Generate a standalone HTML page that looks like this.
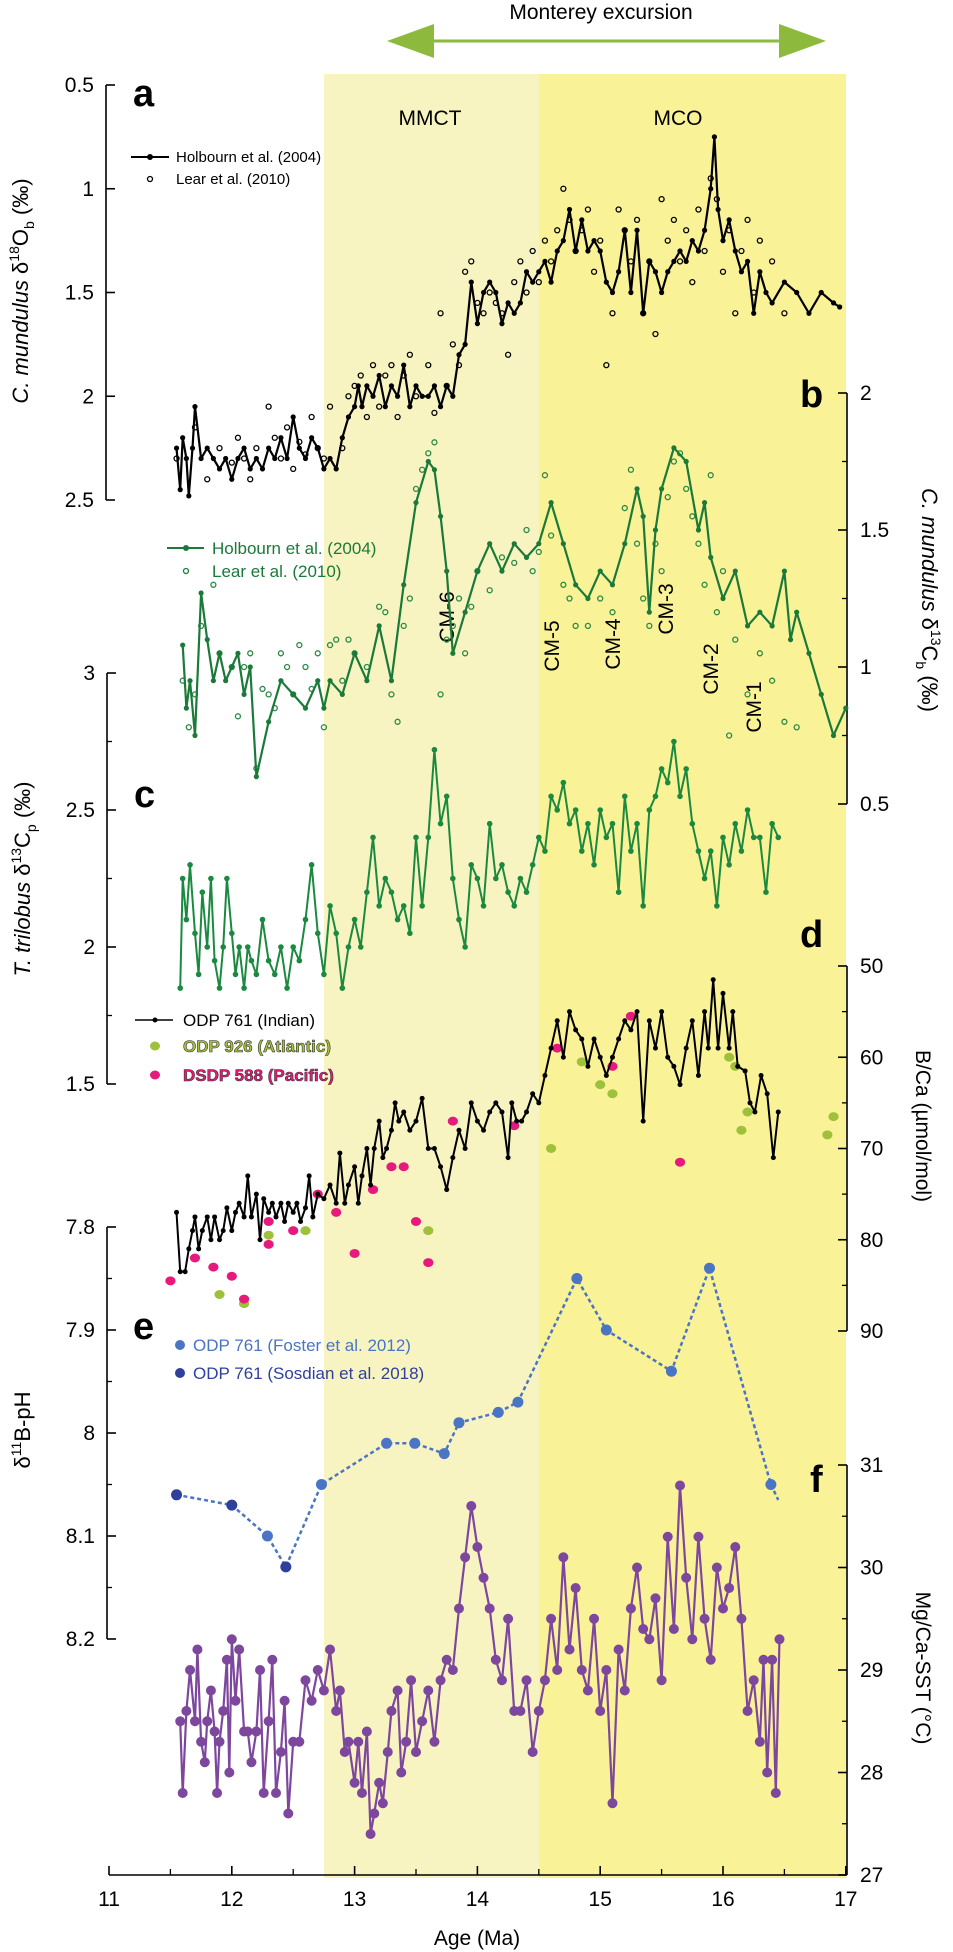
<!DOCTYPE html>
<html><head><meta charset="utf-8">
<style>
html,body{margin:0;padding:0;background:#fff;}
svg{display:block;font-family:"Liberation Sans",sans-serif;}
</style></head>
<body>
<svg id="chart" width="953" height="1952" viewBox="0 0 953 1952">
  <rect x="324" y="74" width="215" height="1804" fill="#f8f4c2"/>
  <rect x="539" y="74" width="307" height="1804" fill="#faf296"/>
  <g>
    <line x1="430" y1="41" x2="782" y2="41" stroke="#8dba3c" stroke-width="3"/>
    <polygon points="387,41 434,24 434,58" fill="#8dba3c"/>
    <polygon points="826,41 779,24 779,58" fill="#8dba3c"/>
  </g>
  <text x="601" y="19" font-size="21" text-anchor="middle">Monterey excursion</text>
  <text x="430" y="125" font-size="21" text-anchor="middle">MMCT</text>
  <text x="678" y="125" font-size="21" text-anchor="middle">MCO</text>

  <text x="133" y="106" font-size="38" font-weight="bold">a</text>
  <text x="800" y="407" font-size="38" font-weight="bold">b</text>
  <text x="134" y="807" font-size="38" font-weight="bold">c</text>
  <text x="800" y="947" font-size="38" font-weight="bold">d</text>
  <text x="133" y="1339" font-size="38" font-weight="bold">e</text>
  <text x="810" y="1492" font-size="38" font-weight="bold">f</text>

  <text transform="translate(28,291) rotate(-90)" font-size="22" text-anchor="middle"><tspan font-style="italic">C. mundulus</tspan> δ<tspan font-size="14" dy="-9">18</tspan><tspan dy="9">O</tspan><tspan font-size="14" dy="6">b</tspan><tspan dy="-6"> (‰)</tspan></text>
  <text transform="translate(30,879) rotate(-90)" font-size="22" text-anchor="middle"><tspan font-style="italic">T. trilobus</tspan> δ<tspan font-size="14" dy="-9">13</tspan><tspan dy="9">C</tspan><tspan font-size="14" dy="6">p</tspan><tspan dy="-6"> (‰)</tspan></text>
  <text transform="translate(30,1430) rotate(-90)" font-size="22" text-anchor="middle">δ<tspan font-size="14" dy="-9">11</tspan><tspan dy="9">B-pH</tspan></text>
  <text transform="translate(922,600) rotate(90)" font-size="22" text-anchor="middle"><tspan font-style="italic">C. mundulus</tspan> δ<tspan font-size="14" dy="-9">13</tspan><tspan dy="9">C</tspan><tspan font-size="14" dy="6">b</tspan><tspan dy="-6"> (‰)</tspan></text>
  <text transform="translate(916,1126) rotate(90)" font-size="21" text-anchor="middle">B/Ca (µmol/mol)</text>
  <text transform="translate(916,1668) rotate(90)" font-size="21" text-anchor="middle">Mg/Ca-SST (°C)</text>
  <text x="477" y="1945" font-size="21" text-anchor="middle">Age (Ma)</text>

  <g>
    <line x1="131" y1="157" x2="169" y2="157" stroke="#000" stroke-width="2"/><circle cx="150" cy="157" r="3" fill="#000"/>
    <text x="176" y="162" font-size="15">Holbourn et al. (2004)</text>
    <circle cx="150" cy="179" r="2.5" fill="none" stroke="#000" stroke-width="1.3"/>
    <text x="176" y="184" font-size="15">Lear et al. (2010)</text>
  </g>
  <g fill="#1b7a3a">
    <line x1="167" y1="548" x2="204" y2="548" stroke="#1b7a3a" stroke-width="2"/><circle cx="186" cy="548" r="3"/>
    <text x="212" y="554" font-size="17">Holbourn et al. (2004)</text>
    <circle cx="186" cy="571" r="2.5" fill="none" stroke="#1b7a3a" stroke-width="1.3"/>
    <text x="212" y="577" font-size="17">Lear et al. (2010)</text>
  </g>
  <g>
    <line x1="135" y1="1020" x2="173" y2="1020" stroke="#000" stroke-width="1.5"/><circle cx="155" cy="1020" r="2.5"/>
    <text x="183" y="1026" font-size="17">ODP 761 (Indian)</text>
    <ellipse cx="155" cy="1046" rx="5" ry="4.5" fill="#9dc13a"/>
    <text x="183" y="1052" font-size="17" font-weight="bold" fill="#a5c23a" stroke="#333" stroke-width="0.6">ODP 926 (Atlantic)</text>
    <ellipse cx="155" cy="1075" rx="5" ry="4.5" fill="#e8197c"/>
    <text x="183" y="1081" font-size="17" font-weight="bold" fill="#e8197c" stroke="#333" stroke-width="0.6">DSDP 588 (Pacific)</text>
  </g>
  <g>
    <circle cx="180" cy="1345" r="5" fill="#4a74c4"/>
    <text x="193" y="1351" font-size="17" fill="#4a74c4">ODP 761 (Foster et al. 2012)</text>
    <circle cx="180" cy="1373" r="5" fill="#2e3f9c"/>
    <text x="193" y="1379" font-size="17" fill="#2e3f9c">ODP 761 (Sosdian et al. 2018)</text>
  </g>

  <g font-size="21">
    <text transform="translate(454,617) rotate(-90)" text-anchor="middle">CM-6</text>
    <text transform="translate(559,646) rotate(-90)" text-anchor="middle">CM-5</text>
    <text transform="translate(620,644) rotate(-90)" text-anchor="middle">CM-4</text>
    <text transform="translate(673,609) rotate(-90)" text-anchor="middle">CM-3</text>
    <text transform="translate(718,669) rotate(-90)" text-anchor="middle">CM-2</text>
    <text transform="translate(761,707) rotate(-90)" text-anchor="middle">CM-1</text>
  </g>
  <g id="axes"></g>
  <g id="marks"></g>
</svg>
<script>
// ---- data ----
const xTicks = [11,12,13,14,15,16,17];
const aTicks = [0.5,1,1.5,2,2.5];
const bTicks = [0.5,1,1.5,2];
const cTicks = [1.5,2,2.5,3];
const dTicks = [50,60,70,80,90];
const eTicks = [7.8,7.9,8,8.1,8.2];
const fTicks = [27,28,29,30,31];

const aAge = [11.55,11.58,11.6,11.63,11.65,11.68,11.7,11.75,11.8,11.85,11.9,11.95,12.0,12.05,12.1,12.15,12.2,12.25,12.3,12.35,12.4,12.45,12.5,12.55,12.6,12.65,12.7,12.75,12.8,12.85,12.9,12.95,13.0,13.03,13.06,13.1,13.15,13.2,13.25,13.3,13.35,13.4,13.45,13.5,13.55,13.6,13.65,13.7,13.75,13.8,13.85,13.9,13.95,14.0,14.05,14.1,14.15,14.2,14.25,14.3,14.35,14.4,14.45,14.5,14.55,14.6,14.65,14.7,14.75,14.8,14.85,14.9,14.95,15.0,15.05,15.1,15.15,15.2,15.25,15.3,15.35,15.4,15.45,15.5,15.55,15.6,15.65,15.7,15.75,15.8,15.85,15.9,15.93,15.96,16.0,16.05,16.1,16.15,16.2,16.25,16.3,16.35,16.4,16.5,16.6,16.7,16.8,16.9,16.95];
const aVal = [2.25,2.45,2.2,2.3,2.48,2.25,2.05,2.3,2.25,2.3,2.35,2.3,2.4,2.3,2.25,2.35,2.3,2.35,2.25,2.3,2.2,2.3,2.1,2.25,2.3,2.2,2.25,2.35,2.3,2.35,2.2,2.1,2.05,1.95,2.05,1.95,2.0,1.9,2.05,1.95,2.0,1.85,2.05,1.95,2.0,2.0,1.95,2.05,1.95,2.0,1.8,1.75,1.45,1.65,1.5,1.45,1.5,1.65,1.55,1.6,1.55,1.4,1.45,1.4,1.35,1.45,1.3,1.25,1.1,1.3,1.15,1.3,1.25,1.3,1.45,1.5,1.4,1.2,1.5,1.2,1.6,1.35,1.4,1.5,1.4,1.35,1.3,1.35,1.25,1.3,1.2,1.0,0.75,1.1,1.25,1.15,1.3,1.4,1.35,1.6,1.4,1.5,1.55,1.45,1.5,1.6,1.5,1.55,1.57];
const aLearAge = [11.55,11.7,11.8,11.9,12.0,12.05,12.1,12.15,12.2,12.3,12.35,12.4,12.45,12.5,12.55,12.6,12.65,12.7,12.75,12.8,12.9,12.95,13.0,13.05,13.1,13.15,13.2,13.25,13.3,13.35,13.4,13.45,13.5,13.6,13.65,13.7,13.75,13.8,13.85,13.9,13.95,14.0,14.05,14.1,14.15,14.2,14.25,14.3,14.35,14.4,14.45,14.5,14.55,14.6,14.65,14.7,14.75,14.8,14.85,14.9,14.95,15.0,15.05,15.1,15.15,15.2,15.25,15.3,15.35,15.4,15.45,15.5,15.55,15.6,15.65,15.7,15.75,15.8,15.85,15.9,15.95,16.0,16.05,16.1,16.15,16.2,16.25,16.3,16.4,16.5];
const aLearVal = [2.3,2.15,2.4,2.25,2.32,2.2,2.3,2.4,2.25,2.05,2.2,2.3,2.15,2.35,2.22,2.28,2.1,2.25,2.3,2.05,2.25,2.0,1.95,1.9,2.1,1.85,2.05,1.9,1.85,2.1,1.9,1.8,2.0,1.85,2.08,1.6,1.95,1.75,1.85,1.4,1.35,1.55,1.6,1.5,1.55,1.6,1.8,1.45,1.35,1.5,1.3,1.45,1.25,1.35,1.2,1.0,1.15,1.3,1.2,1.1,1.4,1.25,1.85,1.6,1.1,1.2,1.35,1.15,1.6,1.35,1.7,1.05,1.25,1.15,1.35,1.2,1.45,1.1,1.3,0.95,1.05,1.4,1.2,1.6,1.3,1.15,1.5,1.25,1.35,1.6];

const bAge = [11.6,11.63,11.66,11.7,11.75,11.8,11.85,11.9,11.95,12.0,12.05,12.1,12.15,12.2,12.3,12.4,12.5,12.6,12.7,12.75,12.8,12.9,13.0,13.1,13.2,13.3,13.4,13.5,13.6,13.65,13.7,13.75,13.8,13.9,14.0,14.1,14.2,14.3,14.4,14.5,14.6,14.7,14.8,14.9,15.0,15.1,15.2,15.3,15.35,15.4,15.45,15.5,15.6,15.7,15.8,15.85,15.9,16.0,16.1,16.2,16.3,16.4,16.5,16.55,16.6,16.7,16.8,16.9,17.0];
const bVal = [1.08,0.85,0.95,0.75,1.27,1.1,0.95,1.05,0.95,1.0,1.05,0.9,1.0,0.6,0.8,0.95,0.9,0.85,0.95,0.85,0.95,0.9,1.05,0.95,1.15,0.95,1.3,1.6,1.75,1.72,1.55,1.35,1.05,1.2,1.35,1.45,1.35,1.45,1.4,1.45,1.6,1.45,1.3,1.25,1.35,1.3,1.45,1.65,1.55,1.2,1.5,1.65,1.8,1.75,1.5,1.6,1.4,1.25,1.35,1.15,1.2,1.15,1.35,1.1,1.2,1.05,0.9,0.75,0.85];
const bLearAge = [11.6,11.65,11.7,11.75,11.85,11.9,12.0,12.05,12.1,12.15,12.2,12.25,12.3,12.35,12.4,12.45,12.5,12.55,12.6,12.65,12.7,12.75,12.8,12.85,12.9,12.95,13.0,13.1,13.2,13.25,13.3,13.35,13.4,13.45,13.5,13.55,13.6,13.65,13.7,13.75,13.8,13.85,13.9,13.95,14.0,14.1,14.2,14.3,14.4,14.45,14.5,14.55,14.6,14.7,14.75,14.8,14.9,15.0,15.1,15.2,15.25,15.3,15.35,15.4,15.45,15.5,15.55,15.6,15.65,15.7,15.75,15.8,15.85,15.9,15.95,16.0,16.05,16.1,16.2,16.3,16.4,16.5,16.6];
const bLearVal = [0.95,0.78,0.9,1.15,1.3,1.05,1.0,0.82,1.0,1.05,0.63,0.92,0.9,0.85,1.05,1.0,0.9,1.08,1.0,0.92,1.05,0.78,1.08,1.1,0.95,1.1,1.05,1.0,1.22,1.2,0.9,0.8,1.15,1.25,1.65,1.72,1.78,1.82,0.9,1.1,1.15,1.25,1.05,1.22,1.35,1.28,1.4,1.38,1.5,1.35,1.42,1.7,1.48,1.3,1.25,1.15,1.15,1.25,1.2,1.58,1.72,1.45,1.25,1.15,1.45,1.35,1.62,1.75,1.78,1.65,1.55,1.45,1.3,1.7,1.2,1.35,0.75,1.1,0.9,1.05,0.95,0.8,0.78];

const cAge = [11.58,11.6,11.63,11.66,11.7,11.73,11.76,11.8,11.83,11.86,11.9,11.93,11.96,12.0,12.03,12.06,12.1,12.13,12.16,12.2,12.25,12.3,12.35,12.4,12.45,12.5,12.55,12.6,12.65,12.7,12.75,12.8,12.85,12.9,12.95,13.0,13.05,13.1,13.15,13.2,13.25,13.3,13.35,13.4,13.45,13.5,13.55,13.6,13.65,13.7,13.75,13.8,13.85,13.9,13.95,14.0,14.05,14.1,14.15,14.2,14.25,14.3,14.35,14.4,14.45,14.5,14.55,14.6,14.65,14.7,14.75,14.8,14.85,14.9,14.95,15.0,15.05,15.1,15.15,15.2,15.25,15.3,15.35,15.4,15.45,15.5,15.55,15.6,15.65,15.7,15.75,15.8,15.85,15.9,15.95,16.0,16.05,16.1,16.15,16.2,16.25,16.3,16.35,16.4,16.45];
const cVal = [1.85,2.25,2.1,2.3,2.05,1.9,2.2,2.0,2.25,1.95,1.85,2.0,2.25,2.05,1.9,2.0,1.85,2.0,1.95,1.9,2.1,1.95,1.9,2.0,1.85,2.0,1.95,2.1,2.3,2.05,1.9,2.15,2.05,1.85,2.0,2.1,2.0,2.2,2.4,2.15,2.25,2.2,2.1,2.15,2.05,2.4,2.15,2.4,2.72,2.45,2.55,2.25,2.1,2.0,2.3,2.25,2.15,2.45,2.25,2.3,2.2,2.15,2.25,2.2,2.3,2.4,2.35,2.55,2.5,2.6,2.45,2.5,2.35,2.45,2.3,2.5,2.4,2.45,2.2,2.55,2.35,2.45,2.15,2.5,2.55,2.65,2.6,2.75,2.55,2.65,2.45,2.35,2.25,2.35,2.15,2.4,2.3,2.45,2.35,2.5,2.4,2.4,2.2,2.45,2.4];

const dAge = [11.55,11.58,11.62,11.65,11.68,11.7,11.73,11.76,11.8,11.83,11.86,11.9,11.93,11.96,12.0,12.03,12.06,12.1,12.13,12.16,12.2,12.23,12.26,12.3,12.33,12.36,12.4,12.43,12.46,12.5,12.53,12.56,12.6,12.63,12.66,12.7,12.75,12.8,12.85,12.88,12.92,12.95,13.0,13.03,13.06,13.1,13.13,13.16,13.2,13.23,13.26,13.3,13.33,13.36,13.4,13.45,13.5,13.55,13.6,13.65,13.7,13.75,13.8,13.85,13.9,13.95,14.0,14.05,14.1,14.15,14.2,14.25,14.28,14.32,14.36,14.4,14.45,14.5,14.55,14.6,14.65,14.7,14.75,14.8,14.85,14.9,14.95,15.0,15.05,15.1,15.15,15.2,15.25,15.3,15.35,15.4,15.45,15.5,15.55,15.6,15.65,15.7,15.75,15.8,15.85,15.88,15.92,15.96,16.0,16.05,16.08,16.12,16.18,16.22,16.26,16.31,16.36,16.41,16.45];
const dVal = [77,83.5,83.5,81,79,77.5,81,79,77.5,80,77.5,80,79,76.5,79,77,76,77.5,73,77.5,75,80,75.5,77,76,77.5,76,78,76,77,76,78,76.5,73,77.5,75,75.5,74,76,70.5,76,74,72,76,73,70,74,70,67,71,70,68,65,67,66,68,67,64.5,70,70,72,74.5,71,68,70,65,67,68,66,65,66,71,65,67,67,66,64,65,62,59,56,60,55,57,58,61,58,60,62,60,58,56,57,55,67,56,59,55,60,61,63,59,56,62,55,59,51.5,59,53,59,55,61,61.5,65,66,62,64,71,66,65];
const dAtlAge = [11.9,12.1,12.3,12.6,13.6,14.6,14.85,15.0,15.1,16.05,16.1,16.15,16.2,16.85,16.9];
const dAtlVal = [86,87,79.5,79,79,70,60.5,63,64,60,61,68,66,68.5,66.5];
const dPacAge = [11.5,11.7,11.85,12.0,12.1,12.3,12.3,12.5,12.7,12.85,13.0,13.15,13.3,13.4,13.5,13.6,13.8,14.3,14.65,15.1,15.25,15.65];
const dPacVal = [84.5,82,83,84,86.5,78,80.5,79,75,77,81.5,74.5,72,72,78,82.5,67,67.5,59,61,55.5,71.5];

const eAge = [11.55,12.0,12.29,12.44,12.73,13.26,13.49,13.73,13.85,14.17,14.33,14.81,15.05,15.58,15.89,16.39];
const eVal = [8.06,8.07,8.10,8.13,8.05,8.01,8.01,8.02,7.99,7.98,7.97,7.85,7.90,7.94,7.84,8.05];
const eSource = ["S","S","F","S","F","F","F","F","F","F","F","F","F","F","F","F"];

const fAge = [11.58,11.6,11.63,11.66,11.7,11.72,11.75,11.78,11.8,11.83,11.86,11.88,11.9,11.93,11.96,11.98,12.0,12.03,12.06,12.1,12.13,12.16,12.2,12.23,12.26,12.3,12.33,12.36,12.4,12.43,12.46,12.5,12.55,12.6,12.65,12.7,12.75,12.8,12.85,12.88,12.92,12.95,13.0,13.03,13.06,13.1,13.13,13.16,13.2,13.23,13.27,13.3,13.35,13.38,13.42,13.46,13.5,13.55,13.6,13.65,13.7,13.75,13.8,13.85,13.9,13.95,14.0,14.05,14.1,14.15,14.2,14.25,14.3,14.35,14.4,14.45,14.5,14.55,14.6,14.65,14.7,14.75,14.8,14.85,14.9,14.95,15.0,15.05,15.1,15.15,15.2,15.25,15.3,15.35,15.4,15.45,15.5,15.55,15.6,15.65,15.7,15.75,15.8,15.85,15.9,15.95,16.0,16.05,16.1,16.15,16.2,16.25,16.3,16.33,16.36,16.4,16.43,16.46];
const fVal = [28.5,27.8,28.6,29.0,28.5,29.2,28.3,28.1,28.5,28.8,28.4,27.8,28.3,28.6,29.1,28.0,29.3,28.7,29.2,28.4,28.4,28.1,28.4,29.0,27.8,28.5,29.1,27.8,28.2,28.7,27.6,28.3,28.3,28.9,28.7,29.0,28.8,29.2,28.6,28.8,28.2,28.3,27.9,28.3,27.8,28.4,27.4,27.6,27.9,27.7,28.2,28.6,28.8,28.0,28.3,28.9,28.2,28.5,28.8,28.3,28.9,29.1,29.0,29.6,30.1,30.6,30.2,29.9,29.6,29.1,28.9,29.5,28.6,28.6,28.9,28.2,28.6,28.9,29.5,29.0,30.1,29.2,29.8,29.0,28.8,29.5,28.6,29.0,27.7,29.2,28.8,29.6,30.0,29.4,29.3,29.7,28.9,30.3,29.4,30.8,29.9,29.3,30.3,29.5,29.1,30.0,29.6,29.8,30.2,29.5,28.6,28.9,28.3,29.1,28.0,29.1,27.8,29.3];

// ---- scales ----
const X = a => 109 + (a - 11) * 122.8;
const Ya = v => 85 + (v - 0.5) * 207.5;
const Yb = v => 393 + (2 - v) * 274;
const Yc = v => 673 + (3 - v) * 274;
const Yd = v => 966 + (v - 50) * 9.125;
const Ye = v => 1227 + (v - 7.8) * 1030;
const Yf = v => 1465 + (31 - v) * 102.5;

const NS = "http://www.w3.org/2000/svg";
const axesG = document.getElementById('axes');
const marksG = document.getElementById('marks');
function mk(tag, attrs, parent){ const e=document.createElementNS(NS,tag); for(const k in attrs) e.setAttribute(k,attrs[k]); parent.appendChild(e); return e; }

function vAxis(name, x, ticks, yf, side, minor){
  const g = mk('g', {}, axesG);
  
  
  const ys = ticks.map(yf);
  mk('line',{x1:x,x2:x,y1:Math.min(...ys),y2:Math.max(...ys),stroke:'#000','stroke-width':1.6},g);
  const dir = side==='left'?1:-1;
  ticks.forEach((t,i)=>{
    mk('line',{x1:x,x2:x+dir*9,y1:ys[i],y2:ys[i],stroke:'#000','stroke-width':1.6},g);
    if(minor && i<ticks.length-1){ const ym=(ys[i]+ys[i+1])/2; mk('line',{x1:x,x2:x+dir*5,y1:ym,y2:ym,stroke:'#000','stroke-width':1.3},g); }
    const tx = mk('text',{x: side==='left'? x-12 : x+13, y: ys[i]+7, 'font-size':21, 'text-anchor': side==='left'?'end':'start'}, g);
    tx.textContent = String(t);
  });
}
vAxis('y-axis-d18o',106,aTicks,Ya,'left',false);
vAxis('y-axis-d13cb',847,bTicks,Yb,'right',true);
vAxis('y-axis-d13cp',107,cTicks,Yc,'left',true);
vAxis('y-axis-bca',847,dTicks,Yd,'right',true);
vAxis('y-axis-ph',107,eTicks,Ye,'left',true);
vAxis('y-axis-sst',847,fTicks,Yf,'right',true);

// x axis
(function(){
  const g = mk('g', {}, axesG);
  
  
  mk('line',{x1:X(11),x2:X(17),y1:1875,y2:1875,stroke:'#000','stroke-width':1.6},g);
  xTicks.forEach((t,i)=>{
    mk('line',{x1:X(t),x2:X(t),y1:1875,y2:1866,stroke:'#000','stroke-width':1.6},g);
    if(i<xTicks.length-1) mk('line',{x1:X(t+0.5),x2:X(t+0.5),y1:1875,y2:1869,stroke:'#000','stroke-width':1.3},g);
    const tx = mk('text',{x:X(t),y:1906,'font-size':21,'text-anchor':'middle'},g);
    tx.textContent = String(t);
  });
})();

function lineSeries(name, ages, vals, yf, color, r, width, dash){
  const g = mk('g', {}, marksG);
  
  
  const pts = ages.map((a,i)=>X(a).toFixed(1)+','+yf(vals[i]).toFixed(1)).join(' ');
  const attrs = {points:pts,fill:'none',stroke:color,'stroke-width':width,'stroke-linejoin':'round'};
  if(dash) attrs['stroke-dasharray']=dash;
  mk('polyline',attrs,g);
  if(r>0) ages.forEach((a,i)=>{ mk('circle',{cx:X(a),cy:yf(vals[i]),r:r,fill:color},g); });
  return g;
}
function scatter(name, ages, vals, yf, color, r, open){
  const g = mk('g', {}, marksG);
  
  
  ages.forEach((a,i)=>{
    if(open) mk('circle',{cx:X(a),cy:yf(vals[i]),r:r,fill:'none',stroke:color,'stroke-width':1.3},g);
    else mk('ellipse',{cx:X(a),cy:yf(vals[i]),rx:r+0.6,ry:r,fill:color},g);
  });
}

scatter('lear-d18o-points', aLearAge, aLearVal, Ya, '#000', 2.5, true);
lineSeries('holbourn-d18o-line', aAge, aVal, Ya, '#000', 2.6, 2.2);
scatter('lear-d13cb-points', bLearAge, bLearVal, Yb, '#2a8a45', 2.5, true);
lineSeries('holbourn-d13cb-line', bAge, bVal, Yb, '#1b7a3a', 2.6, 2.2);
lineSeries('trilobus-d13cp-line', cAge, cVal, Yc, '#1b8a40', 2.8, 2);
scatter('odp926-bca-points', dAtlAge, dAtlVal, Yd, '#9dc13a', 4.5, false);
scatter('dsdp588-bca-points', dPacAge, dPacVal, Yd, '#e8197c', 4.5, false);
lineSeries('odp761-bca-line', dAge, dVal, Yd, '#000', 2.5, 2);
(function(){
  const g = lineSeries('ph-line', eAge, eVal, Ye, '#4a74c4', 0, 2.5, '4,3');
  eAge.forEach((a,i)=>{
    const c = mk('circle',{cx:X(a),cy:Ye(eVal[i]),r:5.5,fill: eSource[i]==='S'?'#2e3f9c':'#4a74c4'},g);
    
    
  });
  mk('line',{x1:X(16.39),y1:Ye(8.05),x2:X(16.45),y2:Ye(8.065),stroke:'#4a74c4','stroke-width':2.5,'stroke-dasharray':'4,3'},g);
})();
lineSeries('sst-line', fAge, fVal, Yf, '#7d479e', 5, 2.2);
</script>
</body></html>
